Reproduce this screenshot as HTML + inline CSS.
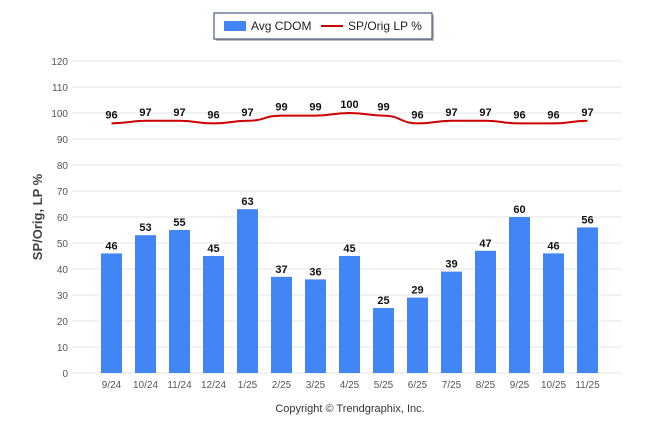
<!DOCTYPE html>
<html><head><meta charset="utf-8"><style>body{margin:0;background:#fff}</style></head><body>
<svg width="646" height="434" xmlns="http://www.w3.org/2000/svg" font-family="Liberation Sans, sans-serif">
<rect width="646" height="434" fill="#fff"/>
<rect x="216" y="15" width="218" height="26" fill="#bbb"/>
<rect x="214" y="13" width="218" height="26" fill="#fff" stroke="#1f3864" stroke-width="1"/>
<rect x="224" y="21" width="22" height="10" fill="#4285f4"/>
<text x="251" y="30" font-size="12" fill="#222">Avg CDOM</text>
<line x1="321" y1="26" x2="343" y2="26" stroke="#c00" stroke-width="2"/>
<text x="348" y="30" font-size="12" fill="#222">SP/Orig LP %</text>
<g stroke="#e6e6e6" stroke-width="1">
<line x1="72" y1="61" x2="622" y2="61"/><line x1="72" y1="87" x2="622" y2="87"/><line x1="72" y1="113" x2="622" y2="113"/><line x1="72" y1="139" x2="622" y2="139"/><line x1="72" y1="165" x2="622" y2="165"/><line x1="72" y1="191" x2="622" y2="191"/><line x1="72" y1="217" x2="622" y2="217"/><line x1="72" y1="243" x2="622" y2="243"/><line x1="72" y1="269" x2="622" y2="269"/><line x1="72" y1="295" x2="622" y2="295"/><line x1="72" y1="321" x2="622" y2="321"/><line x1="72" y1="347" x2="622" y2="347"/><line x1="72" y1="373" x2="622" y2="373"/>
</g>
<g font-size="10" fill="#555" text-anchor="end">
<text x="68" y="65">120</text><text x="68" y="91">110</text><text x="68" y="117">100</text><text x="68" y="143">90</text><text x="68" y="169">80</text><text x="68" y="195">70</text><text x="68" y="221">60</text><text x="68" y="247">50</text><text x="68" y="273">40</text><text x="68" y="299">30</text><text x="68" y="325">20</text><text x="68" y="351">10</text><text x="68" y="377">0</text>
</g>
<text transform="translate(42,217) rotate(-90)" font-size="13" font-weight="bold" fill="#444" text-anchor="middle">SP/Orig, LP %</text>
<g id="bars" fill="#4285f4"></g>
<g id="blab" font-size="11" font-weight="bold" fill="#111" text-anchor="middle"></g>
<g id="xl" font-size="10" fill="#555" text-anchor="middle"></g>
<path id="ln" fill="none" stroke="#c00" stroke-width="2"/>
<g id="llab" font-size="11" font-weight="bold" fill="#111" text-anchor="middle"></g>
<text x="350" y="412" font-size="11" fill="#333" text-anchor="middle">Copyright © Trendgraphix, Inc.</text>
<script>
var ns="http://www.w3.org/2000/svg";
var L=["9/24","10/24","11/24","12/24","1/25","2/25","3/25","4/25","5/25","6/25","7/25","8/25","9/25","10/25","11/25"];
var B=[46,53,55,45,63,37,36,45,25,29,39,47,60,46,56];
var P=[96,97,97,96,97,99,99,100,99,96,97,97,96,96,97];
function el(p,t,a,txt){var e=document.createElementNS(ns,t);for(var k in a)e.setAttribute(k,a[k]);if(txt!==undefined)e.textContent=txt;document.getElementById(p).appendChild(e);}
var pts=[];
for(var i=0;i<15;i++){var cx=111.5+34*i;var y=373-B[i]*2.6;
el("bars","rect",{x:cx-10.5,y:y,width:21,height:373-y});
el("blab","text",{x:cx,y:y-4},B[i]);
el("xl","text",{x:cx,y:388},L[i]);
var py=373-P[i]*2.6;pts.push([cx,py]);
el("llab","text",{x:cx,y:py-5},P[i]);}
var d="M"+pts[0][0]+","+pts[0][1];
for(var i=1;i<15;i++){var a=pts[i-1],b=pts[i],m=(b[0]-a[0])/2;d+=" C"+(a[0]+m)+","+a[1]+" "+(b[0]-m)+","+b[1]+" "+b[0]+","+b[1];}
document.getElementById("ln").setAttribute("d",d);
</script>
</svg>
</body></html>
